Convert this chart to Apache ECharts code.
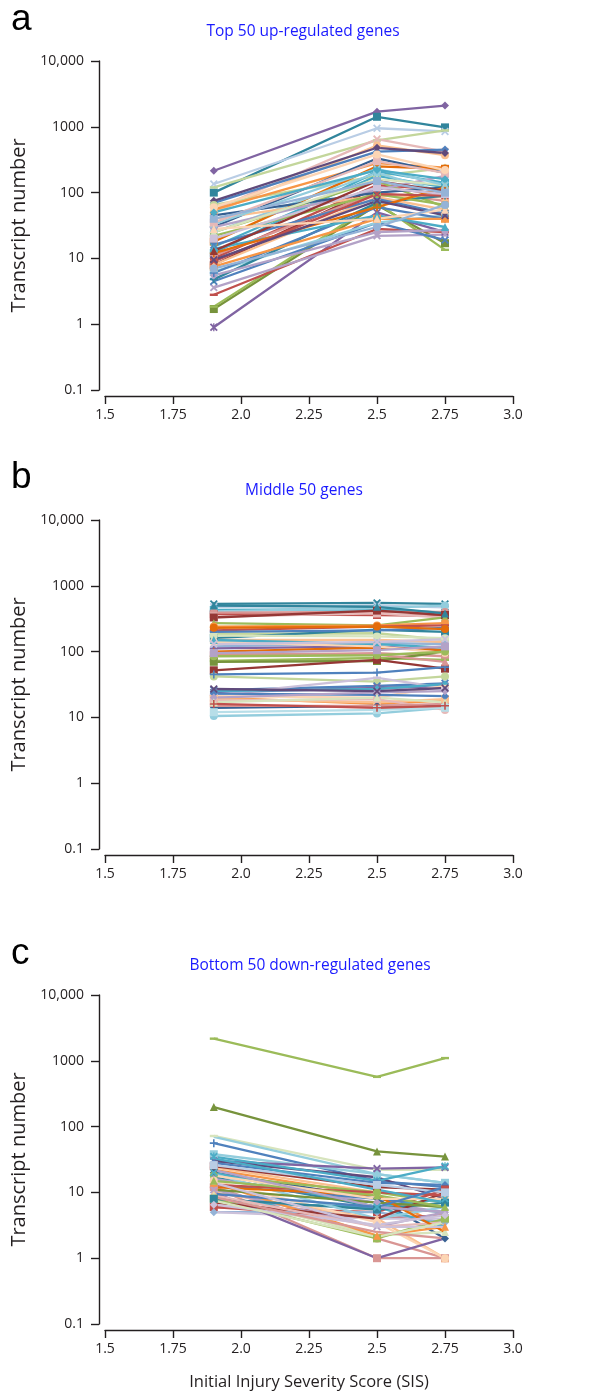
<!DOCTYPE html>
<html><head><meta charset="utf-8">
<script src="https://cdn.jsdelivr.net/npm/echarts@6/dist/echarts.min.js"></script>
<style>html,body{margin:0;padding:0;background:#fff}#c{width:607px;height:1392px}</style>
</head><body><div id="c"></div>
<script>
// ---------- data ----------
const xPositions = [1.9, 2.5, 2.75];
const xTickLabels = ['1.5', '1.75', '2.0', '2.25', '2.5', '2.75', '3.0'];
const yTickLabels = ['0.1', '1', '10', '100', '1000', '10,000'];
const panelLetters = ['a', 'b', 'c'];
const panelTitles = ['Top 50 up-regulated genes', 'Middle 50 genes', 'Bottom 50 down-regulated genes'];
const yAxisName = 'Transcript number';
const xAxisName = 'Initial Injury Severity Score (SIS)';

// panel a: top 50 up-regulated genes (values at SIS 1.9, 2.5, 2.75)
const upAt19  = [215,100,135,120,55,50,70,75,65,55,30,18,12,15,25,8,10,11,40,25,1.7,1.85,0.9,2.8,3.6,4.5,6.3,4.8,5.5,6,7.5,8,16,14,30,22,45,25,12,9,33,20,13,35,60,40,50,9.5,28,7];
const upAt25  = [1700,1420,950,620,650,520,420,480,180,280,330,250,210,180,200,120,130,100,90,150,65,70,50,28,22,35,35,70,25,60,40,85,80,45,110,95,100,160,60,95,230,120,150,300,380,150,220,75,40,30];
const upAt275 = [2100,980,850,880,420,370,450,400,235,240,200,230,140,120,100,95,110,75,85,60,17,13.5,25,25,23,19,45,90,27,40,40,55,48,30,180,65,120,130,120,90,130,95,105,200,220,100,160,45,55,65];

// panel b: middle 50 genes
const midAt19  = [530,480,430,410,370,390,340,330,270,240,210,185,160,150,175,120,112,100,88,72,70,52,42,45,95,140,150,130,26,24,22,25,21,20,19,14,10.5,18,23,15,20,17,12,16,27,85,200,500,230,95];
const midAt25  = [550,500,440,460,360,400,380,420,250,250,240,190,215,150,170,135,120,115,95,80,72,75,35,48,90,120,130,140,30,28,40,27,20,16,17,15,11.5,19,22,15,24,20,13,14,25,88,210,480,240,105];
const midAt275 = [530,470,390,500,350,400,330,360,330,270,250,150,200,140,160,130,105,105,85,75,100,55,42,58,70,95,115,155,33,30,28,32,30,18,19,15,14,13,21,16,25,17,14,15,28,100,230,380,220,120];

// panel c: bottom 50 down-regulated genes
const downAt19  = [2170,198,72,70,56,38,30,30,35,28,24,25,20,22,18,17,16,12,12,6,6,5,5,10,7,9,8,11,14,15,10,8,13,20,19,7,9,11,12,6.5,26,13,15,18,22,33,9.5,8.5,14,7.5];
const downAt25  = [570,42,22,19,15,19,23,17,15,14,10,12,8,9,10,6,7,2.0,1.0,4,5,5,4,4,6,2.2,2,3,2.2,3.5,1.0,5.5,8,6,4,4,3,7,9,3.2,13,10,9,8,6,11,6,2.5,3,2.1];
const downAt275 = [1100,35,22,14,12,14,24,8,25,13,9,11,2,3,7,5,5,1.0,1.0,4.5,11,3.5,4,1.0,3,2.5,4,5,3,1.0,2,7,6,8,6,10,3.5,6,2.5,4.5,10,9,6,8,5,7,12,2,3,3.5];

// ---------- styles (kept apart from data) ----------
const palette = {
  B:'#4F81BD', R:'#C0504D', G:'#9BBB59', P:'#8064A2', A:'#4BACC6', O:'#F79646',
  b:'#376092', r:'#953735', g:'#77933C', p:'#604A7B', a:'#31859C', o:'#E46C0A',
  lb:'#95B3D7', lr:'#D99694', lg:'#C3D69B', lp:'#B3A2C7', la:'#93CDDD', lo:'#FAC090',
  vb:'#B9CDE5', vr:'#E6B9B8', vg:'#D7E4BD', vp:'#CCC1DA', va:'#B7DEE8', vo:'#FCD5B4'
};
const symbols = {
  d:'diamond', s:'rect', t:'triangle', c:'circle', n:'none',
  x:'path://M0,1.6L1.6,0L5,3.4L8.4,0L10,1.6L6.6,5L10,8.4L8.4,10L5,6.6L1.6,10L0,8.4L3.4,5Z',
  k:'path://M0,1.6L1.6,0L4.2,2.6V0H5.8V2.6L8.4,0L10,1.6L6.6,5L10,8.4L8.4,10L5.8,7.4V10H4.2V7.4L1.6,10L0,8.4L3.4,5Z',
  p:'path://M4,0H6V4H10V6H6V10H4V6H0V4H4Z',
  m:'path://M0,3.5H10V6.5H0Z'
};
const upLook = ['P d','a s','vb x','lg m','vr x','lo c','B d','p d','lg c','O t','b p','o s','A s','A k','la c','r s','R c','lr c','lo t','G t','g s','G m','P k','R m','lp x','B x','la s','a p','lp d','B p','O s','lo d','B k','A t','lp c','G c','b d','vg t','o p','R x','la x','vp s','r t','vr s','vo c','lb s','A d','p x','vo t','lb c'];
const midLook = ['a x','vb x','A s','la c','R s','lr c','vr s','r s','G t','O c','R m','lg c','a s','lo t','vg c','lb d','P p','o t','lr s','G m','g s','r s','lg c','B p','lr t','vo c','A t','vp x','B x','P k','vp m','A d','vo m','O t','lo s','b d','la c','vr c','B d','lr m','lp d','vg t','va s','R p','p x','G c','B m','a t','o c','lp s'];
const downLook = ['G m','g t','vg m','la n','B p','la s','P x','p n','A k','B d','lo c','r s','b d','O n','G c','a t','lp d','lr c','lr s','R n','R s','lb d','vp n','lo t','A n','vg t','G s','lp x','O t','vo c','P n','a s','B n','A x','la n','r n','vr n','g n','o n','vp d','vb s','R n','G t','vo n','lp n','A n','B n','lr n','vp n','vg n'];

// ---------- chart ----------
const axisColor = '#231f20';
const tickFont = 'Open Sans';
const gridTops = [61, 520, 995];
const gridHeight = 329;
const panels = [
  [upAt19, upAt25, upAt275, upLook],
  [midAt19, midAt25, midAt275, midLook],
  [downAt19, downAt25, downAt275, downLook]
];

const grids = [], xAxes = [], yAxes = [], series = [];
panels.forEach((pd, k) => {
  grids.push({ left: 105, width: 408, top: gridTops[k], height: gridHeight, containLabel: false });
  xAxes.push({
    type: 'value', gridIndex: k, min: 1.5, max: 3.0, interval: 0.25, offset: 6,
    axisLine: { show: true, lineStyle: { color: axisColor, width: 1.4 } },
    axisTick: { show: true, length: 8, lineStyle: { color: axisColor, width: 1.4 } },
    axisLabel: { margin: 12, color: axisColor, fontSize: 14, fontFamily: tickFont,
      formatter: v => xTickLabels[Math.round((v - 1.5) / 0.25)] },
    splitLine: { show: false },
    name: k === 2 ? xAxisName : '', nameLocation: 'middle', nameGap: 44,
    nameTextStyle: { fontSize: 16.5, fontFamily: tickFont, color: axisColor }
  });
  yAxes.push({
    type: 'log', logBase: 10, gridIndex: k, min: 0.1, max: 10000, splitNumber: 5, offset: 6,
    axisLine: { show: true, lineStyle: { color: axisColor, width: 1.4 } },
    axisTick: { show: true, length: 8, lineStyle: { color: axisColor, width: 1.4 } },
    minorTick: { show: false },
    axisLabel: { margin: 15, color: axisColor, fontSize: 14, fontFamily: tickFont,
      formatter: v => yTickLabels[Math.round(Math.log10(v)) + 1] },
    splitLine: { show: false },
    name: yAxisName, nameLocation: 'middle', nameGap: 62,
    nameTextStyle: { fontSize: 20, fontFamily: tickFont, color: axisColor }
  });
  const [v1, v2, v3, look] = pd;
  for (let i = 0; i < v1.length; i++) {
    const [ck, sk] = look[i].split(' ');
    const col = palette[ck];
    series.push({
      type: 'line', xAxisIndex: k, yAxisIndex: k,
      data: [[xPositions[0], v1[i]], [xPositions[1], v2[i]], [xPositions[2], v3[i]]],
      symbol: symbols[sk], symbolSize: 8, symbolKeepAspect: true, showSymbol: true,
      lineStyle: { color: col, width: 2.3 },
      itemStyle: { color: col, borderWidth: 0 },
      emphasis: { disabled: true }, silent: true, animation: false
    });
  }
});

const letterY = [20, 478, 954];
const titlePos = [[303, 32], [304, 491], [310, 966]];
const graphics = [];
panelLetters.forEach((t, k) => {
  graphics.push({ type: 'text', x: 11, y: letterY[k], style: { text: t, fontSize: 37, fontFamily: 'Liberation Sans', fill: '#000', align: 'left', verticalAlign: 'middle' } });
  graphics.push({ type: 'text', x: titlePos[k][0], y: titlePos[k][1], style: { text: panelTitles[k], fontSize: 15.5, fontFamily: tickFont, fill: '#1a1aff', align: 'center', verticalAlign: 'middle' } });
});

const chart = echarts.init(document.getElementById('c'), null, { renderer: 'canvas' });
chart.setOption({
  animation: false,
  backgroundColor: '#fff',
  grid: grids, xAxis: xAxes, yAxis: yAxes, series: series,
  graphic: graphics
});
</script></body></html>
